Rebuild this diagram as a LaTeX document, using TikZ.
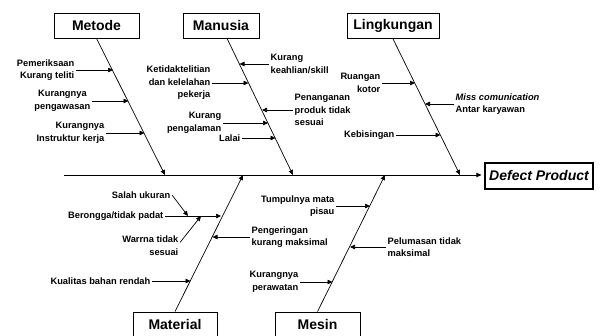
\documentclass[tikz,border=0pt]{standalone}
\usepackage{fontspec}
\setmainfont{Liberation Sans}
\usetikzlibrary{arrows.meta}
\tikzstyle{category}=[draw, line width=0.8pt, minimum height=25pt, inner sep=0pt, font=\fontsize{14}{16}\selectfont\bfseries]
\tikzstyle{effect}=[draw, line width=1.2pt, minimum width=108pt, minimum height=26pt, inner sep=0pt, font=\fontsize{14}{16}\selectfont\bfseries\itshape]
\tikzstyle{cause}=[inner sep=1.5pt, font=\fontsize{9.3}{12.5}\selectfont\bfseries]
\tikzstyle{arr}=[line width=0.7pt, -{Triangle[length=5pt, width=4.5pt]}]

\begin{document}
\begin{tikzpicture}[x=1pt, y=-1pt]
\useasboundingbox (0,0) rectangle (602,336);

\node [category, minimum width=85pt] (metode) at (96.5, 25.5) {Metode};
\node [category, minimum width=76pt] (manusia) at (221, 25.5) {Manusia};
\node [category, minimum width=92pt] (lingkungan) at (393, 26) {Lingkungan};
\node [category, minimum width=84pt] (material) at (175, 324.5) {Material};
\node [category, minimum width=85pt] (mesin) at (317.5, 324.5) {Mesin};
\node [effect] (defect) at (539, 176) {Defect Product};

\coordinate (tail) at (64, 175);
\coordinate (jmetode) at (165, 175);
\coordinate (jmanusia) at (293, 175);
\coordinate (jlingkungan) at (460, 175);
\coordinate (jmaterial) at (243, 175);
\coordinate (jmesin) at (385, 175);

\draw [arr, shorten >=3pt] (tail) -- (tail -| defect.west);
\draw [arr] (metode.south) -- (jmetode);
\draw [arr] ([xshift=6pt]manusia.south) -- (jmanusia);
\draw [arr] (lingkungan.south) -- (jlingkungan);
\draw [arr] (material.north) -- (jmaterial);
\draw [arr] (mesin.north) -- (jmesin);

\coordinate (m1) at (113, 70);
\coordinate (m2) at (128.5, 101);
\coordinate (m3) at (144.5, 133);
\node [cause, align=right, anchor=east] (pemeriksaan) at (76, 70) {Pemeriksaan\\Kurang teliti};
\node [cause, align=center, anchor=east] (pengawasan) at (92, 101) {Kurangnya\\pengawasan};
\node [cause, align=right, anchor=east] (instruktur) at (106, 133) {Kurangnya\\Instruktur kerja};
\draw [arr] (pemeriksaan) -- (m1);
\draw [arr] (pengawasan) -- (m2);
\draw [arr] (instruktur) -- (m3);

\coordinate (n1) at (239.5, 64);
\coordinate (n2) at (248.5, 83);
\coordinate (n3) at (262, 110);
\coordinate (n4) at (268, 123);
\coordinate (n5) at (275.5, 138);
\node [cause, align=left, anchor=west] (keahlian) at (269, 64) {Kurang\\keahlian/skill};
\node [cause, align=right, anchor=east] (kelelahan) at (212, 83) {Ketidaktelitian\\dan kelelahan\\pekerja};
\node [cause, align=left, anchor=west] (penanganan) at (293, 110) {Penanganan\\produk tidak\\sesuai};
\node [cause, align=right, anchor=east] (pengalaman) at (223, 123) {Kurang\\pengalaman};
\node [cause, anchor=east] (lalai) at (242, 138) {Lalai};
\draw [arr] (keahlian) -- (n1);
\draw [arr] (kelelahan) -- (n2);
\draw [arr] (penanganan) -- (n3);
\draw [arr] (pengalaman) -- (n4);
\draw [arr] (lalai) -- (n5);

\coordinate (l1) at (415, 83);
\coordinate (l2) at (425, 104);
\coordinate (l3) at (440.5, 135);
\node [cause, align=right, anchor=east] (ruangan) at (382, 83) {Ruangan\\kotor};
\node [cause, align=left, anchor=west] (komunikasi) at (454, 104) {\textit{Miss comunication}\\Antar karyawan};
\node [cause, anchor=east] (kebisingan) at (396, 135) {Kebisingan};
\draw [arr] (ruangan) -- (l1);
\draw [arr] (komunikasi) -- (l2);
\draw [arr] (kebisingan) -- (l3);

\coordinate (t1) at (221, 216);
\coordinate (t2) at (188, 216);
\coordinate (t3) at (201, 216);
\coordinate (t4) at (212.5, 237);
\coordinate (t5) at (190.5, 281);
\node [cause, anchor=east] (berongga) at (165, 216) {Berongga/tidak padat};
\node [cause, anchor=east] (ukuran) at (172, 195) {Salah ukuran};
\node [cause, align=right, anchor=east] (warna) at (180, 245.5) {Warrna tidak\\sesuai};
\node [cause, align=left, anchor=west] (pengeringan) at (250, 237) {Pengeringan\\kurang maksimal};
\node [cause, anchor=east] (kualitas) at (152, 281) {Kualitas bahan rendah};
\draw [arr] (berongga) -- (t1);
\draw [arr] (ukuran.east) -- (t2);
\draw [arr] ([yshift=3pt]warna.east) -- (t3);
\draw [arr] (pengeringan) -- (t4);
\draw [arr] (kualitas) -- (t5);

\coordinate (s1) at (370, 206);
\coordinate (s2) at (350, 247);
\coordinate (s3) at (332.5, 282);
\node [cause, align=right, anchor=east] (tumpul) at (336, 206) {Tumpulnya mata\\pisau};
\node [cause, align=left, anchor=west] (pelumasan) at (386, 247) {Pelumasan tidak\\maksimal};
\node [cause, align=right, anchor=east] (perawatan) at (300, 282) {Kurangnya\\perawatan};
\draw [arr] (tumpul) -- (s1);
\draw [arr] (pelumasan) -- (s2);
\draw [arr] (perawatan) -- (s3);

\end{tikzpicture}
\end{document}
